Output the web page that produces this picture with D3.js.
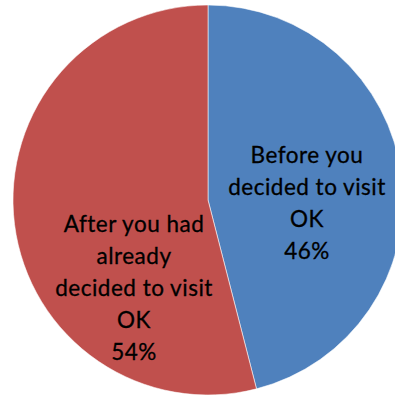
<!DOCTYPE html>
<html>
<head>
<meta charset="utf-8">
<script src="https://cdn.jsdelivr.net/npm/d3@7"></script>
<style>
  html, body { margin: 0; padding: 0; background: #fff; }
  svg { display: block; }
</style>
</head>
<body>
<svg id="chart" width="395" height="395"></svg>
<script>
// Survey answers: when the decision to visit was made
const categories = ["Before you decided to visit OK", "After you had already decided to visit OK"];
const labelLines = [
  ["Before you", "decided to visit", "OK"],
  ["After you had", "already", "decided to visit", "OK"]
];
const values = [46, 54];
const colors = ["#4F81BD", "#C0504D"];

const W = 395, H = 395;
const cx = 208, cy = 200, radius = 195;

const svg = d3.select("#chart");
const g = svg.append("g").attr("transform", `translate(${cx},${cy})`);

const pie = d3.pie().sort(null).value(d => d)(values);
const arc = d3.arc().innerRadius(0).outerRadius(radius);

g.selectAll("path.slice")
  .data(pie)
  .join("path")
  .attr("class", "slice")
  .attr("d", arc)
  .attr("fill", (d, i) => colors[i])
  .attr("stroke", "#ffffff")
  .attr("stroke-opacity", 0.55)
  .attr("stroke-width", 1);

// Label blocks: offset of each block's visual centre from the pie centre
const labelOffsets = [[99, 2.5], [-74, 87.5]];
const fontSize = 22.5;
const lineH = 32;
const fmt = d => Math.round(d) + "%";

pie.forEach((d, i) => {
  const lines = labelLines[i].concat([fmt(d.data)]);
  const n = lines.length;
  const [ox, oy] = labelOffsets[i];
  // first baseline so that cap-top of first line to last baseline is centred
  const capH = fontSize * 0.72;
  const blockH = capH + (n - 1) * lineH;
  const firstBase = oy - blockH / 2 + capH;
  const t = g.append("text")
    .attr("text-anchor", "middle")
    .attr("font-family", "Lato, 'Open Sans', sans-serif")
    .attr("font-size", fontSize)
    .attr("letter-spacing", 0.5)
    .attr("fill", "#000")
    .attr("stroke", "#000")
    .attr("stroke-width", 0.3);
  lines.forEach((s, j) => {
    t.append("tspan")
      .attr("x", ox)
      .attr("y", firstBase + j * lineH)
      .text(s);
  });
});
</script>
</body>
</html>
